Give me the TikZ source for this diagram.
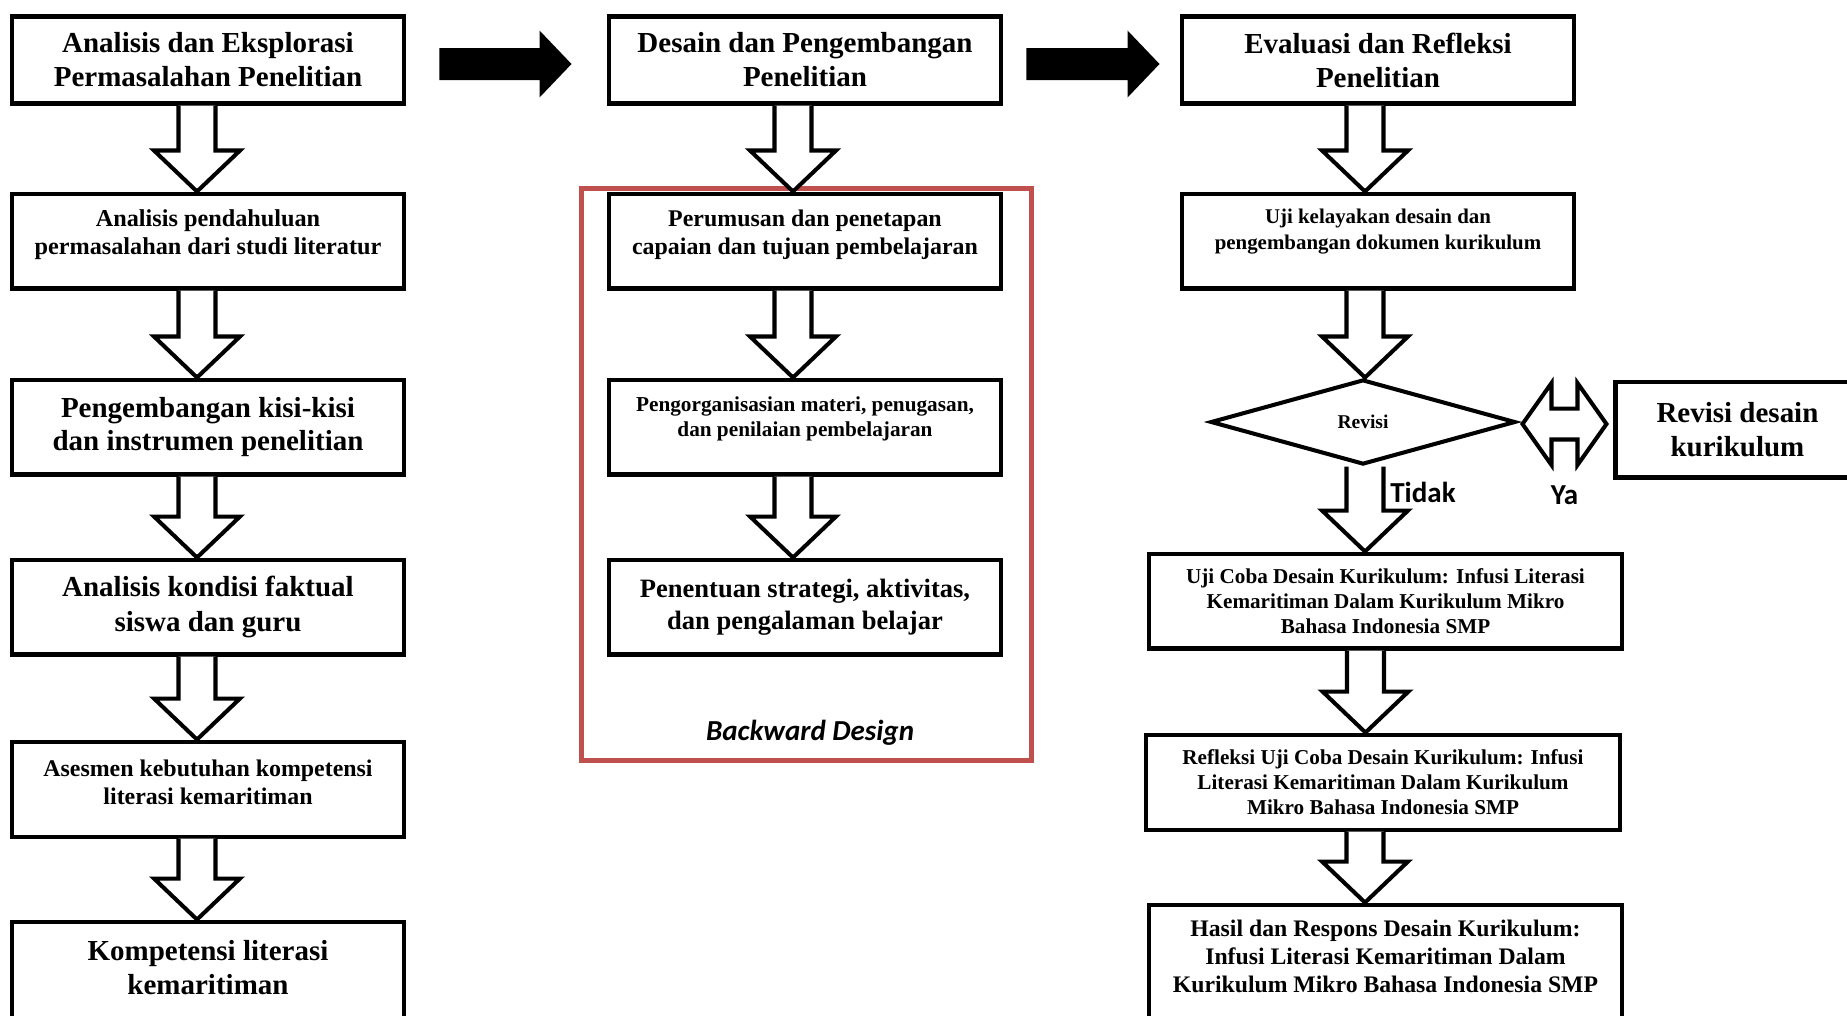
\documentclass[tikz,border=0pt]{standalone}
\usepackage{fontspec}
\setmainfont{Liberation Serif}
\newfontfamily\calibri{Carlito}
\usetikzlibrary{shapes.geometric, calc, positioning}
\definecolor{bdred}{RGB}{192,80,77}
\newcommand{\fsz}[2]{\fontsize{#1}{#2}\selectfont\bfseries}
% hollow block arrow going down, #3 = x offset from the source node
\newcommand{\downarr}[3]{%
  \draw[hollow] let \p1=($(#1.south)+(#3,0)$), \p2=(#2.north) in
    (\x1-0.37cm,\y1) -- (\x1-0.37cm,\y2+0.82cm) -- (\x1-0.86cm,\y2+0.82cm)
    -- (\x1,\y2) -- (\x1+0.86cm,\y2+0.82cm) -- (\x1+0.37cm,\y2+0.82cm)
    -- (\x1+0.37cm,\y1);}
% black arrow between the column heads, #3/#4 = gaps
\newcommand{\rightarr}[4]{%
  \fill let \p1=($(#1.east)+(#3,4)$), \p2=($(#2.west)+(-#4,0)$) in
    (\x1,\y1-0.32cm) -- (\x2-0.64cm,\y1-0.32cm) -- (\x2-0.64cm,\y1-0.67cm)
    -- (\x2,\y1) -- (\x2-0.64cm,\y1+0.67cm) -- (\x2-0.64cm,\y1+0.32cm)
    -- (\x1,\y1+0.32cm) -- cycle;}

\begin{document}
\begin{tikzpicture}[x=0.02cm, y=-0.02cm,
    box/.style={draw, line width=2.3pt, align=center, inner sep=1pt},
    title/.style={box, minimum width=7.86cm, minimum height=1.74cm, font=\fsz{16.5}{19.3}},
    item/.style={box, minimum width=7.86cm, minimum height=1.9cm},
    decision/.style={diamond, draw, line width=2.3pt, aspect=3.5, inner sep=0pt,
      minimum width=6.1cm, minimum height=1.7cm, font=\fsz{11.1}{13}},
    hollow/.style={draw, fill=white, line width=2.3pt, line join=miter},
    frame/.style={draw=bdred, line width=2.7pt},
    lbl/.style={font=\calibri\fsz{16.5}{19}}]

    \useasboundingbox (0,0) rectangle (1847,1015);
    \clip (0,0) rectangle (1847,1015);

    % column 1
    \node[title] (b1) at (208,60) {Analisis dan Eksplorasi\\Permasalahan Penelitian};
    \node[item, font=\fsz{13.8}{15.9}, below=1.72cm of b1] (b2) {Analisis pendahuluan\\permasalahan dari studi literatur\\[-6pt]\mbox{}};
    \node[item, font=\fsz{16.5}{19.3}, below=1.74cm of b2] (b3) {Pengembangan kisi-kisi\\dan instrumen penelitian};
    \node[item, font=\fsz{16.5}{19.9}, below=1.62cm of b3] (b4) {Analisis kondisi faktual\\siswa dan guru};
    \node[item, font=\fsz{13.6}{15.9}, below=1.66cm of b4] (b5) {Asesmen kebutuhan kompetensi\\literasi kemaritiman\\[-8pt]\mbox{}};
    \node[item, font=\fsz{16.5}{19.3}, minimum height=2.72cm, below=1.62cm of b5] (b6) {Kompetensi literasi\\kemaritiman\\ \strut};

    % column 2
    \node[title] (c1) at (805,60) {Desain dan Pengembangan\\Penelitian};
    \node[item, font=\fsz{13.6}{15.9}, below=1.72cm of c1] (c2) {Perumusan dan penetapan\\capaian dan tujuan pembelajaran\\[-6pt]\mbox{}};
    \node[item, font=\fsz{12.1}{14.2}, below=1.74cm of c2] (c3) {Pengorganisasian materi, penugasan,\\dan penilaian pembelajaran\\[-2.5pt]\mbox{}};
    \node[item, font=\fsz{15.1}{18.1}, below=1.62cm of c3] (c4) {Penentuan strategi, aktivitas,\\dan pengalaman belajar};
    \node[lbl] (bd) at ($(c4.south)+(5,76)$) {\itshape Backward Design};
    \draw[frame] ($(c2.north west)+(-25,-3)$) rectangle ($(c4.south east)+(28,104)$);

    % column 3
    \node[title] (d1) at (1378,60) {Evaluasi dan Refleksi\\Penelitian};
    \node[item, font=\fsz{11.9}{14.7}, below=1.72cm of d1] (d2) {Uji kelayakan desain dan\\pengembangan dokumen kurikulum\\[-1pt]\mbox{}};
    \node[decision, below=1.74cm of d2, xshift=-0.3cm] (dia) {Revisi};
    \node[box, font=\fsz{16.5}{19.3}, minimum width=4.88cm, minimum height=1.92cm,
      right=1.92cm of dia, yshift=-0.15cm] (rev) {Revisi desain\\kurikulum};
    \node[item, font=\fsz{12.05}{14.2}, minimum width=9.46cm, below=1.7cm of dia, xshift=0.45cm] (e1)
      {Uji Coba Desain Kurikulum: Infusi Literasi\\Kemaritiman Dalam Kurikulum Mikro\\Bahasa Indonesia SMP};
    \node[item, font=\fsz{12.05}{14.2}, minimum width=9.48cm, below=1.64cm of e1, xshift=-0.05cm] (e2)
      {Refleksi Uji Coba Desain Kurikulum: Infusi\\Literasi Kemaritiman Dalam Kurikulum\\Mikro Bahasa Indonesia SMP};
    \node[item, font=\fsz{13.5}{15.9}, minimum width=9.46cm, minimum height=2.8cm, below=1.42cm of e2, xshift=0.05cm] (e3)
      {Hasil dan Respons Desain Kurikulum:\\Infusi Literasi Kemaritiman Dalam\\Kurikulum Mikro Bahasa Indonesia SMP\\ \strut};
    \node[lbl] (tidak) at ($(dia.south)+(60,26)$) {Tidak};
    \node[lbl] (ya) at ($(dia.east)+(47,73)$) {Ya};

    % arrows
    \rightarr{b1}{c1}{33}{35}
    \rightarr{c1}{d1}{23}{20}

    \downarr{b1}{b2}{-11}
    \downarr{b2}{b3}{-11}
    \downarr{b3}{b4}{-11}
    \downarr{b4}{b5}{-11}
    \downarr{b5}{b6}{-11}

    \downarr{c1}{c2}{-12}
    \downarr{c2}{c3}{-12}
    \downarr{c3}{c4}{-12}

    \downarr{d1}{d2}{-13}
    \downarr{d2}{dia}{-13}
    \downarr{dia}{e1}{2}
    \downarr{e1}{e2}{-20}
    \downarr{e2}{e3}{-18}

    \draw[hollow] let \p1=($(dia.east)+(5,2)$), \p2=($(rev.west)+(-7,0)$) in
      (\x1,\y1) -- (\x1+0.58cm,\y1+0.82cm) -- (\x1+0.58cm,\y1+0.31cm)
      -- (\x2-0.58cm,\y1+0.31cm) -- (\x2-0.58cm,\y1+0.82cm) -- (\x2,\y1)
      -- (\x2-0.58cm,\y1-0.82cm) -- (\x2-0.58cm,\y1-0.31cm)
      -- (\x1+0.58cm,\y1-0.31cm) -- (\x1+0.58cm,\y1-0.82cm) -- cycle;
\end{tikzpicture}
\end{document}
